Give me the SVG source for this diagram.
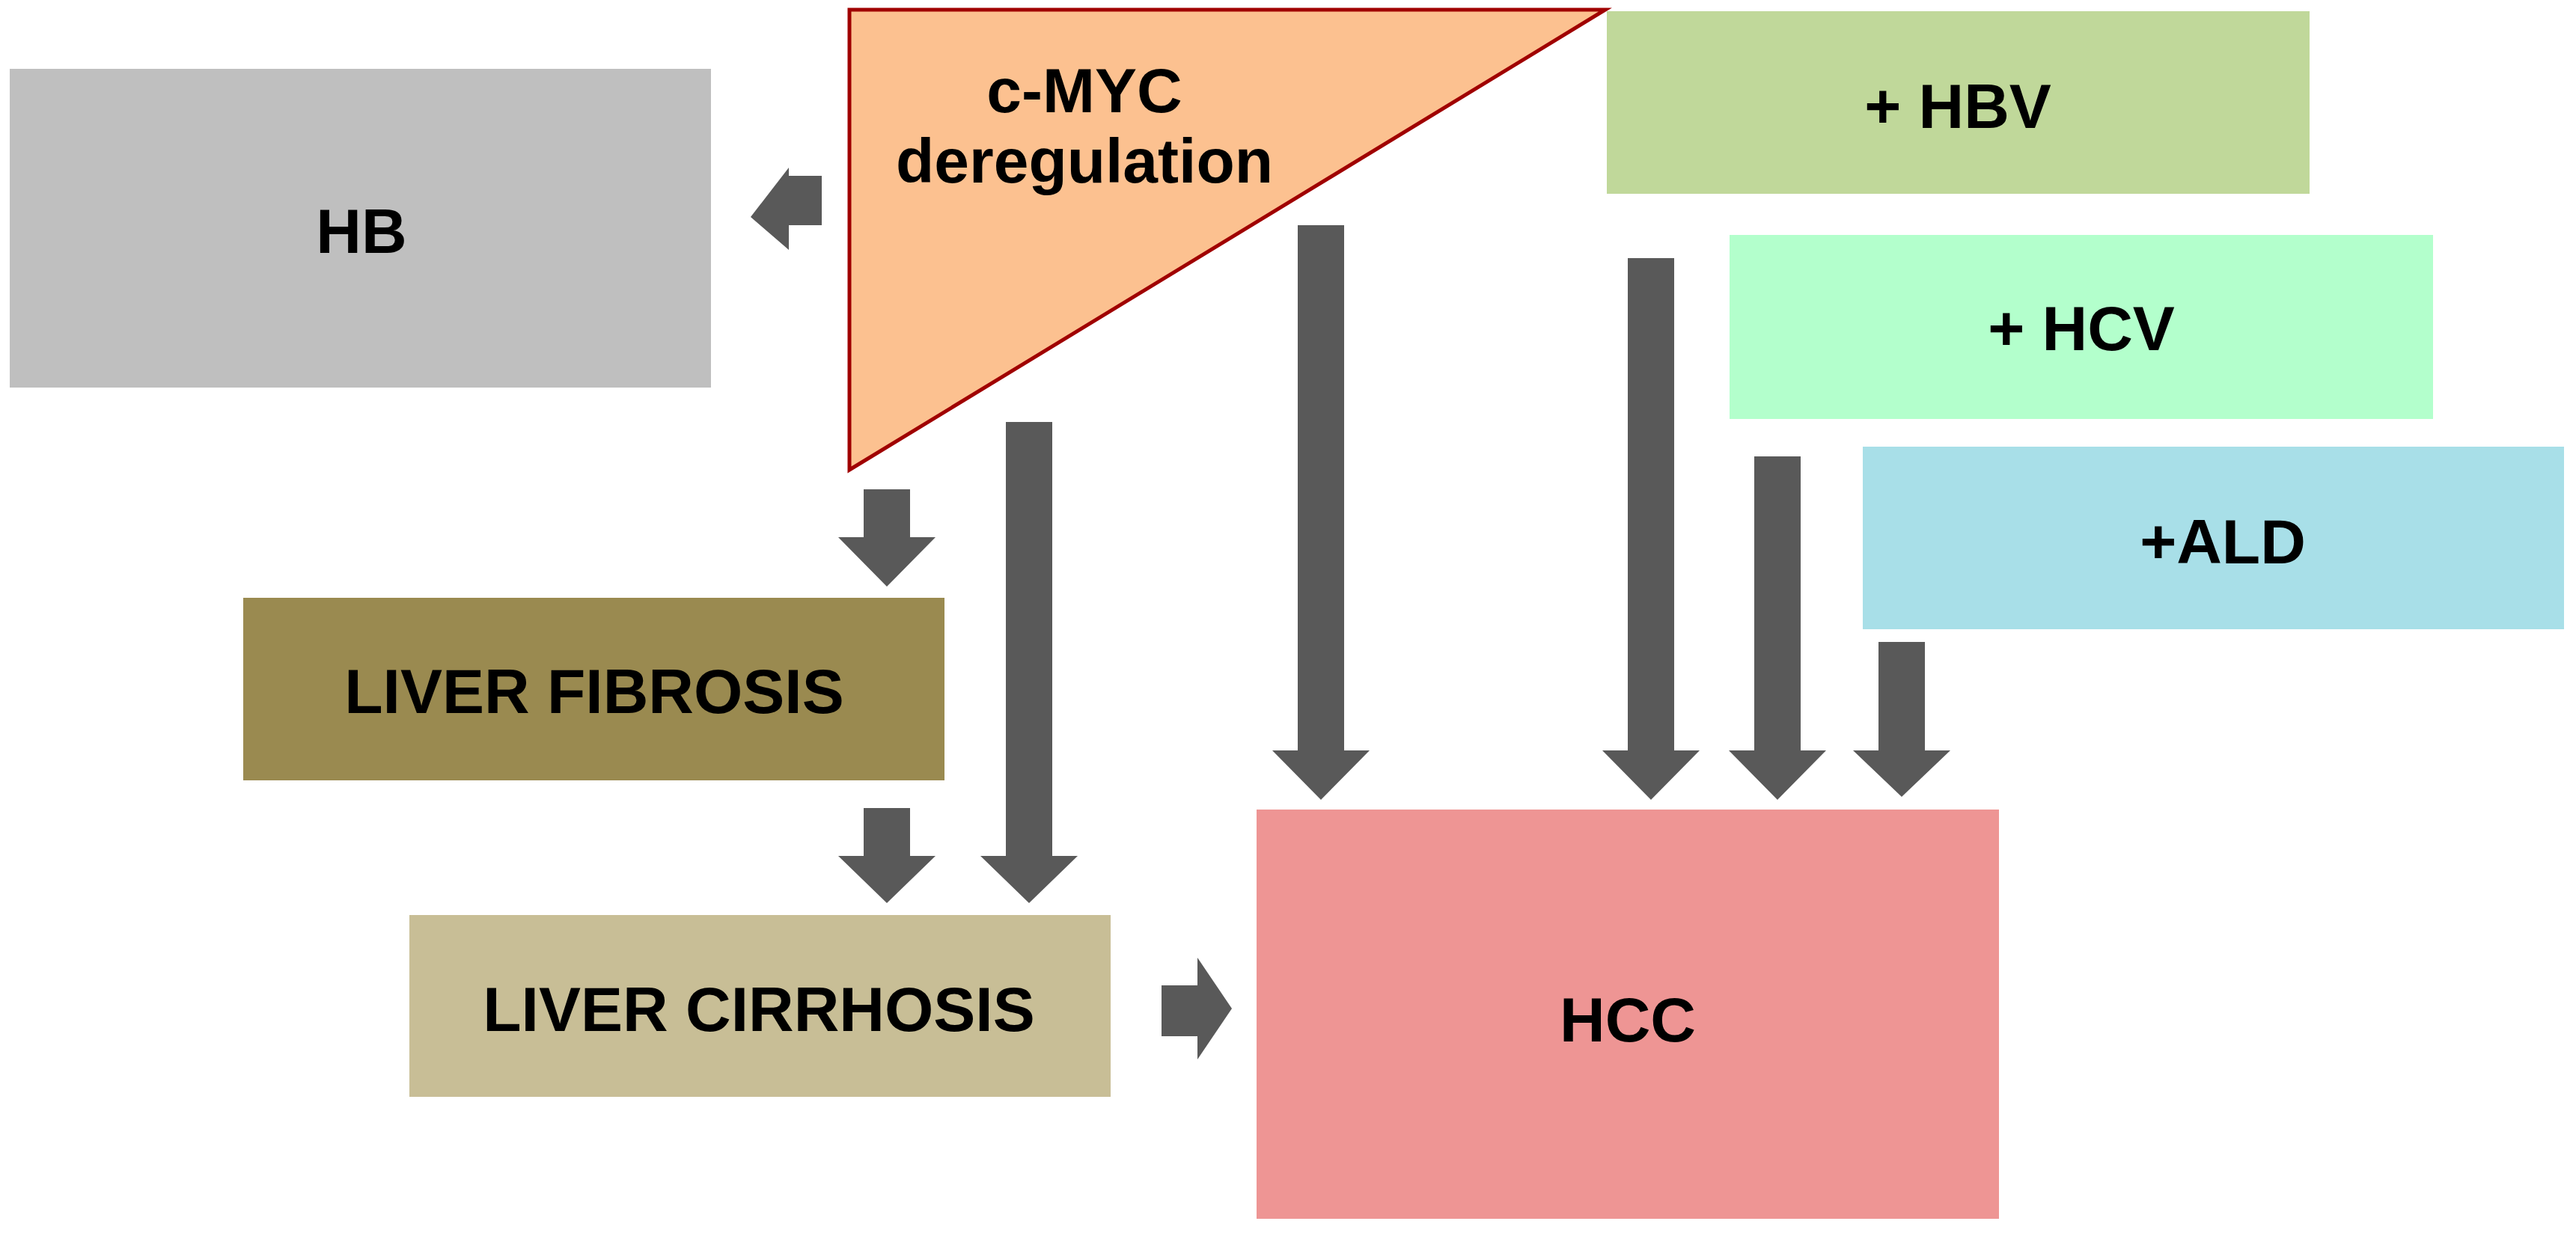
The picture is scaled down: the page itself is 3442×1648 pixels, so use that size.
<svg xmlns="http://www.w3.org/2000/svg" width="3442" height="1648" viewBox="0 0 3442 1648">
<style>
text{font-family:"Liberation Sans",Arial,sans-serif;font-weight:bold;font-size:84px;fill:#000;text-anchor:middle}
.ar{fill:#595959}
</style>
<rect width="3442" height="1648" fill="#fff"/>
<g id="hb"><rect x="13" y="92" width="937" height="426" fill="#bfbfbf"/><text x="483" y="338">HB</text></g>
<g id="cmyc"><polygon points="1135,13 2145,13 1135,628" fill="#fcc190" stroke="#a00000" stroke-width="5"/><text x="1449" y="150">c-MYC</text><text x="1449" y="244">deregulation</text></g>
<g id="hbv"><rect x="2147" y="15" width="939" height="244" fill="#c0d89a"/><text x="2616" y="171">+ HBV</text></g>
<g id="hcv"><rect x="2311" y="314" width="940" height="246" fill="#b3ffcc"/><text x="2781" y="468">+ HCV</text></g>
<g id="ald"><rect x="2489" y="597" width="937" height="244" fill="#a8dfe8"/><text x="2970" y="753">+ALD</text></g>
<g id="fibrosis"><rect x="325" y="799" width="937" height="244" fill="#9a8a50"/><text x="794" y="953">LIVER FIBROSIS</text></g>
<g id="cirrhosis"><rect x="547" y="1223" width="937" height="243" fill="#c8be96"/><text x="1014" y="1378">LIVER CIRRHOSIS</text></g>
<g id="hcc"><rect x="1679" y="1082" width="992" height="547" fill="#ee9594"/><text x="2175" y="1392">HCC</text></g>
<g id="connectors">
<polygon class="ar" points="1098,235 1054,235 1054,224 1003,290 1054,334 1054,301 1098,301"/>
<polygon class="ar" points="1154,654 1216,654 1216,718 1250,718 1185,784 1120,718 1154,718"/>
<polygon class="ar" points="1154,1080 1216,1080 1216,1144 1250,1144 1185,1207 1120,1144 1154,1144"/>
<polygon class="ar" points="1344,564 1406,564 1406,1144 1440,1144 1375,1207 1310,1144 1344,1144"/>
<polygon class="ar" points="1734,301 1796,301 1796,1003 1830,1003 1765,1069 1700,1003 1734,1003"/>
<polygon class="ar" points="2175,345 2237,345 2237,1003 2271,1003 2206,1069 2141,1003 2175,1003"/>
<polygon class="ar" points="2344,610 2406,610 2406,1003 2440,1003 2375,1069 2310,1003 2344,1003"/>
<polygon class="ar" points="2510,858 2572,858 2572,1003 2606,1003 2541,1065 2476,1003 2510,1003"/>
<polygon class="ar" points="1552,1317 1600,1317 1600,1280 1646,1348 1600,1416 1600,1385 1552,1385"/>
</g>
</svg>
